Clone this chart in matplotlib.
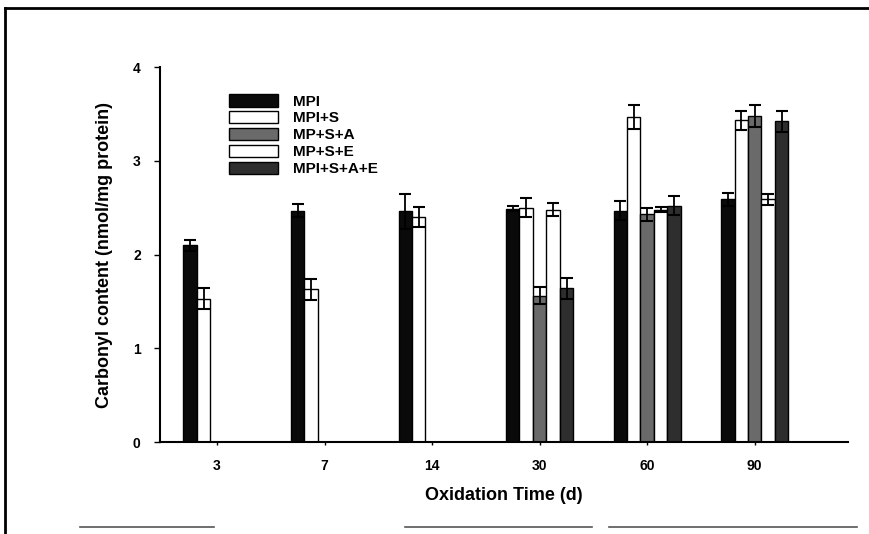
import numpy as np
import matplotlib
matplotlib.use("Agg")
import matplotlib.pyplot as plt
from matplotlib.lines import Line2D

# ==============================
# DATA
# ==============================
days = ["3", "7", "14", "30", "60", "90"]
series = ["MPI", "MPI+S", "MP+S+A", "MP+S+E", "MPI+S+A+E"]
nan = np.nan

mpi = [2.10, 2.47, 2.46, 2.49, 2.47, 2.59]
mpi_s = [1.53, 1.63, 2.40, 2.50, 3.47, 3.43]
mp_s_a = [nan, nan, nan, 1.56, 2.43, 3.48]
mp_s_e = [nan, nan, nan, 2.48, 2.48, 2.59]
mpi_s_a_e = [nan, nan, nan, 1.64, 2.52, 3.42]

mpi_err = [0.06, 0.07, 0.19, 0.03, 0.10, 0.07]
mpi_s_err = [0.11, 0.11, 0.11, 0.10, 0.13, 0.10]
mp_s_a_err = [nan, nan, nan, 0.09, 0.07, 0.12]
mp_s_e_err = [nan, nan, nan, 0.07, 0.03, 0.06]
mpi_s_a_e_err = [nan, nan, nan, 0.11, 0.10, 0.11]

values = [mpi, mpi_s, mp_s_a, mp_s_e, mpi_s_a_e]
errors = [mpi_err, mpi_s_err, mp_s_a_err, mp_s_e_err, mpi_s_a_e_err]
colors = ["#0a0a0a", "white", "#6a6a6a", "white", "#2e2e2e"]

# ==============================
# PLOT
# ==============================
plt.rcParams["font.family"] = ["Liberation Sans", "DejaVu Sans"]
plt.rcParams["font.weight"] = "bold"

fig = plt.figure(figsize=(8.7, 5.34), dpi=100)
ax = fig.add_axes([0.184, 0.172, 0.791, 0.7025])

x = np.arange(len(days))
width = 0.125
for i, (vals, errs, col) in enumerate(zip(values, errors, colors)):
    pos = x + (i - 2) * width
    ax.bar(pos, vals, width, color=col, edgecolor="black", linewidth=1.0,
           label=series[i], zorder=2)
    ax.errorbar(pos, vals, yerr=errs, fmt="none", ecolor="black",
                elinewidth=1.3, capsize=4, capthick=1.5, zorder=3)

ax.set_xlim(-0.53, 5.87)
ax.set_ylim(0, 4)
ax.set_xticks(x)
ax.set_xticklabels(days)
ax.set_yticks([0, 1, 2, 3, 4])
ax.tick_params(axis="x", length=2, width=1, pad=10, labelsize=10)
ax.tick_params(axis="y", length=4, width=1, pad=10, labelsize=10)
for s in ["top", "right"]:
    ax.spines[s].set_visible(False)
for s in ["left", "bottom"]:
    ax.spines[s].set_linewidth(1.5)

ax.set_xlabel("Oxidation Time (d)", fontsize=13, fontweight="bold", labelpad=10)
ax.set_ylabel("Carbonyl content (nmol/mg protein)", fontsize=13,
              fontweight="bold", labelpad=14)

ax.legend(loc="upper left", bbox_to_anchor=(0.08, 0.965), frameon=False,
          handlelength=3.2, handleheight=0.9, labelspacing=0.15,
          handletextpad=1.0, prop={"weight": "bold", "size": 11})

# page frame from the scanned figure
fig.add_artist(Line2D([0.006, 1.0], [0.985, 0.985], color="black", lw=2))
fig.add_artist(Line2D([0.006, 0.006], [0.0, 0.985], color="black", lw=2))
for x0, x1 in [(0.092, 0.246), (0.466, 0.68), (0.70, 0.985)]:
    fig.add_artist(Line2D([x0, x1], [0.013, 0.013], color="#555555", lw=1.2))

fig.savefig("out.png", dpi=100)
